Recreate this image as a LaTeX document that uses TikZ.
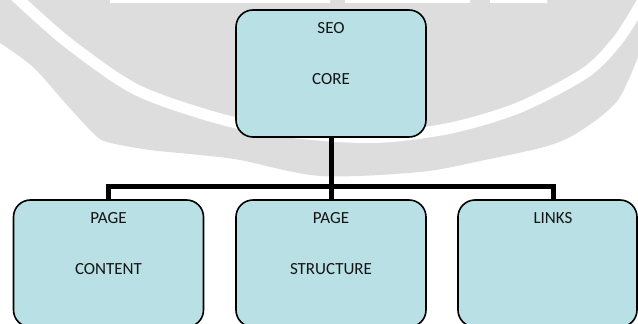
\documentclass[tikz,border=0pt]{standalone}
\usepackage{fontspec}
\setmainfont{Carlito}
\usetikzlibrary{positioning}
\definecolor{boxfill}{RGB}{185,224,228}
\definecolor{wmgrey}{RGB}{221,221,221}
\begin{document}
\begin{tikzpicture}[x=1pt,y=-1pt,
    box/.style={draw=black,line width=1.6pt,fill=boxfill,rounded corners=17pt,minimum width=190pt,minimum height=127pt,inner sep=0pt},
    lbl/.style={font=\fontsize{17}{20}\selectfont,text=black!92,inner sep=0pt,text height=11pt,text depth=0pt},
    link/.style={line width=5pt}]
    \useasboundingbox (0,0) rectangle (638,324);
    \fill[wmgrey] (0,0) -- (638,0) -- plot[smooth] coordinates {(638,57) (618,100) (585,128) (551,145) (485,160) (420,172) (320,176) (240,160) (200,155) (150,150) (107,142) (93,133) (67,105) (33,67) (0,43)} -- cycle;
    \draw[white,line width=11pt] plot[smooth] coordinates {(15,-4) (67,42) (133,88) (200,113) (260,128) (330,136) (385,137) (451,128) (518,108) (585,73) (618,40) (642,2)};
    \fill[white] (110,0) rectangle (330,3) (345,0) rectangle (470,3) (490,0) rectangle (547,3);
    \node[box] (core) at (331,73.5) {};
    \node[box] (content) at (108.5,263.5) {};
    \node[box] (structure) at (331,263.5) {};
    \node[box,minimum width=179pt] (links) at (547.5,263.5) {};
    \node[lbl,below=12.7pt of core.north] (seo) {SEO};
    \node[lbl,below=40pt of seo] (coretxt) {CORE};
    \node[lbl,below=12.7pt of content.north] (page1) {PAGE};
    \node[lbl,below=40pt of page1] (contenttxt) {CONTENT};
    \node[lbl,below=12.7pt of structure.north] (page2) {PAGE};
    \node[lbl,below=40pt of page2] (structuretxt) {STRUCTURE};
    \node[lbl,below=12.7pt of links.north,xshift=5.5pt] (linkstxt) {LINKS};
    \draw[link] (core.south) -- (structure.north);
    \draw[link] (content.north) -- ++(0,-12.5) -| ([xshift=5.5pt]links.north);
\end{tikzpicture}
\end{document}
